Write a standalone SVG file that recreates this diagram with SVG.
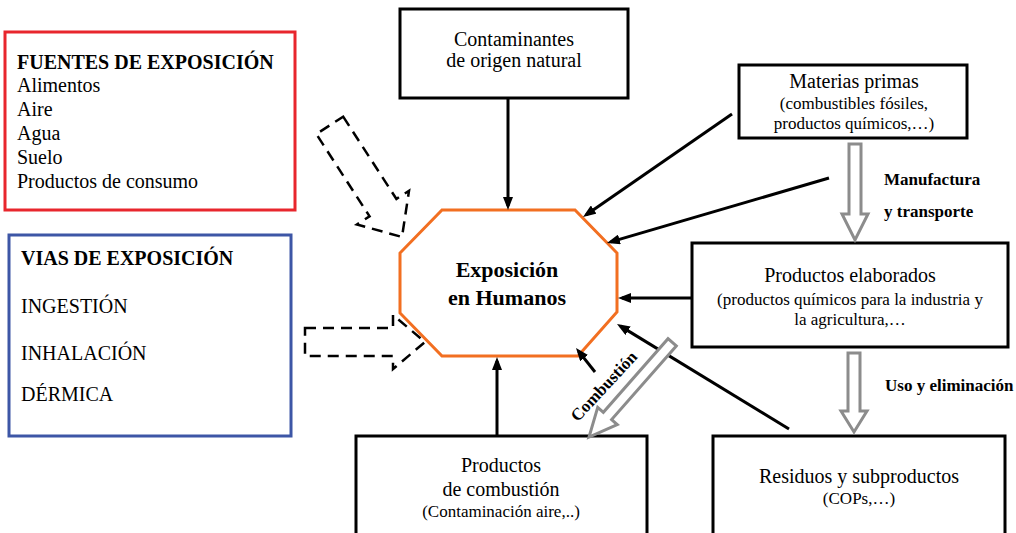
<svg xmlns="http://www.w3.org/2000/svg" width="1016" height="533" viewBox="0 0 1016 533">
<style>
  .t { font-family: "Liberation Serif", "Times New Roman", serif; fill: #000; }
  .main { font-size: 20px; }
  .sub { font-size: 17px; }
  .b { font-weight: bold; }
  .lbl { font-size: 17px; font-weight: bold; }
  .box { fill: #fff; stroke: #000; stroke-width: 3; }
  .conn { stroke: #000; stroke-width: 3; fill: none; marker-end: url(#ah); }
  .hollow { fill: #fff; stroke: #8c8c8c; stroke-width: 3; stroke-linejoin: miter; }
  .dash { fill: none; stroke: #000; stroke-width: 2.5; stroke-dasharray: 11 7; }
</style>
<defs>
  <marker id="ah" markerWidth="13" markerHeight="10" refX="9" refY="5" orient="auto" markerUnits="userSpaceOnUse">
    <path d="M0,0 L13,5 L0,10 Z" fill="#000"/>
  </marker>
</defs>
<rect x="0" y="0" width="1016" height="533" fill="#fff"/>

<g id="fuentes">
  <rect x="5" y="32" width="290" height="178" fill="#fff" stroke="#e8262d" stroke-width="3"/>
  <text class="t main b" x="17" y="69">FUENTES DE EXPOSICIÓN</text>
  <text class="t main" x="17" y="92">Alimentos</text>
  <text class="t main" x="17" y="116">Aire</text>
  <text class="t main" x="17" y="140">Agua</text>
  <text class="t main" x="17" y="164">Suelo</text>
  <text class="t main" x="17" y="188">Productos de consumo</text>
</g>

<g id="vias">
  <rect x="9" y="235" width="282" height="201" fill="#fff" stroke="#3d56a6" stroke-width="3"/>
  <text class="t main b" x="21" y="265">VIAS DE EXPOSICIÓN</text>
  <text class="t main" x="21" y="313">INGESTIÓN</text>
  <text class="t main" x="21" y="360">INHALACIÓN</text>
  <text class="t main" x="21" y="401">DÉRMICA</text>
</g>

<g id="contaminantes">
  <rect class="box" x="400" y="9" width="228" height="89"/>
  <text class="t main" x="514" y="46" text-anchor="middle">Contaminantes</text>
  <text class="t main" x="514" y="67" text-anchor="middle">de origen natural</text>
</g>

<g id="materias">
  <rect class="box" x="739" y="65" width="228" height="73"/>
  <text class="t main" x="854" y="88" text-anchor="middle">Materias primas</text>
  <text class="t sub" x="854" y="109" text-anchor="middle">(combustibles fósiles,</text>
  <text class="t sub" x="854" y="129" text-anchor="middle">productos químicos,…)</text>
</g>

<g id="elaborados">
  <rect class="box" x="692" y="243" width="316" height="104"/>
  <text class="t main" x="850" y="282" text-anchor="middle">Productos elaborados</text>
  <text class="t sub" x="850" y="305" text-anchor="middle">(productos químicos para la industria y</text>
  <text class="t sub" x="850" y="325" text-anchor="middle">la agricultura,…</text>
</g>

<g id="combustion">
  <rect class="box" x="356" y="436" width="291" height="110"/>
  <text class="t main" x="501" y="472" text-anchor="middle">Productos</text>
  <text class="t main" x="501" y="496" text-anchor="middle">de combustión</text>
  <text class="t sub" x="501" y="517" text-anchor="middle">(Contaminación aire,..)</text>
</g>

<g id="residuos">
  <rect class="box" x="713" y="436" width="292" height="110"/>
  <text class="t main" x="859" y="483" text-anchor="middle">Residuos y subproductos</text>
  <text class="t sub" x="859" y="504" text-anchor="middle">(COPs,…)</text>
</g>

<g id="exposicion">
  <polygon points="442,210 575,210 617,253 617,312 578,356 442,356 400,313 400,253" fill="#fff" stroke="#f26f21" stroke-width="3"/>
  <text class="t b" style="font-size:22px" x="507" y="277" text-anchor="middle">Exposición</text>
  <text class="t b" style="font-size:22px" x="507" y="305" text-anchor="middle">en Humanos</text>
</g>

<g id="connectors">
  <line class="conn" x1="508" y1="98" x2="508" y2="206"/>
  <line class="conn" x1="732" y1="114" x2="586.3" y2="214.7"/>
  <line class="conn" x1="829" y1="178" x2="610.8" y2="241.9"/>
  <line class="conn" x1="692" y1="298" x2="622" y2="298"/>
  <line class="conn" x1="789" y1="429" x2="620.4" y2="326.1"/>
  <line class="conn" x1="595" y1="372" x2="578.5" y2="351.1"/>
  <line class="conn" x1="497" y1="436" x2="497" y2="361"/>

  <polygon class="dash" transform="translate(402,237) rotate(57.1)" points="-133,-16 -35,-16 -35,-31 0,0 -35,31 -35,16 -133,16"/>
  <polygon class="dash" points="305,328 393,328 393,315 425,342 393,369 393,356 305,356"/>

  <polygon class="hollow" points="849,144 861,144 861,214 868,214 855,240 842,214 849,214"/>
  <polygon class="hollow" points="848,353 860,353 860,411 867,411 854,432 841,411 848,411"/>
  <polygon class="hollow" transform="translate(589,437) rotate(131.3)" points="-126,-5.5 -28,-5.5 -28,-13 0,0 -28,13 -28,5.5 -126,5.5"/>

  <text class="t lbl" x="884" y="185">Manufactura</text>
  <text class="t lbl" x="884" y="217">y transporte</text>
  <text class="t lbl" x="885" y="391">Uso y eliminación</text>
  <text class="t lbl" x="608" y="390" text-anchor="middle" transform="rotate(-47 608 390)">Combustión</text>
</g>
</svg>
